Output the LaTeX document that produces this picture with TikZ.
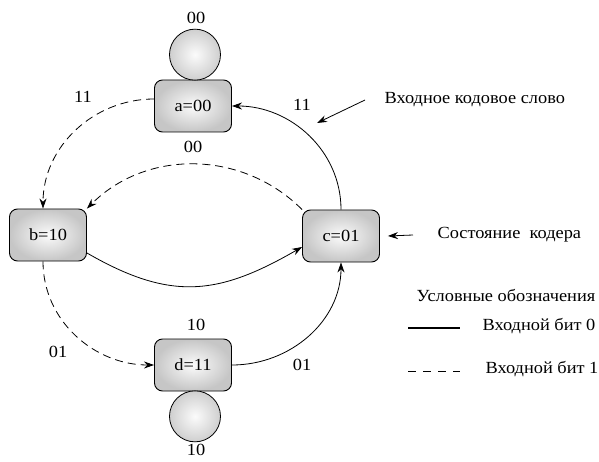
\documentclass[tikz,border=0pt]{standalone}
\usepackage{fontspec}
\setmainfont{Liberation Serif}
\newfontfamily\diagfont{Liberation Serif}[FakeStretch=1.08]
\usetikzlibrary{positioning,arrows.meta}

\begin{document}
\begin{tikzpicture}[
x=1pt, y=1pt,
font=\diagfont\fontsize{17}{19}\selectfont,
state/.style={
draw,
rectangle,
rounded corners=8pt,
line width=0.9pt,
inner color=gray!3,
outer color=gray!45,
minimum width=77pt,
minimum height=52pt,
align=center
},
loopball/.style={
draw,
circle,
line width=0.8pt,
inner sep=0pt,
minimum size=51pt,
inner color=gray!3,
outer color=gray!38
},
lbl/.style={
inner sep=1pt
},
arrow/.style={
-{Stealth[length=10pt,width=7pt]},
line width=0.8pt
},
dasharrow/.style={
arrow,
dash pattern=on 8pt off 5pt
}
]
\useasboundingbox (0,0) rectangle (599,-462);

\node[state] (a) at (193,-106) {a=00};
\node[state] (b) at (48,-235) {b=10};
\node[state] (c) at (341,-236) {c=01};
\node[state] (d) at (193,-365) {d=11};

\node[loopball, above=-1pt of a, xshift=2pt] (loopa) {};
\node[loopball, below=-1pt of d, xshift=2pt] (loopd) {};

% output labels
\node[lbl] (outaa) at (196,-18) {00};
\node[lbl] (outab) at (83,-97) {11};
\node[lbl] (outcb) at (193,-147) {00};
\node[lbl] (outca) at (302,-105) {11};
\node[lbl] (outbc) at (196,-325) {10};
\node[lbl] (outbd) at (58,-352) {01};
\node[lbl] (outdc) at (302,-365) {01};
\node[lbl] (outdd) at (196,-450) {10};

% transitions
\draw[dasharrow] ([yshift=7pt]a.west) to[out=180,in=90] ([xshift=-5pt]b.north);
\draw[dasharrow] (c.north west) to[out=135,in=45] (b.north east);
\draw[arrow] (c.north) to[out=90,in=0] (a.east);
\draw[arrow] ([yshift=-18pt]b.east) to[out=-30,in=-150,looseness=1.15] ([yshift=-11pt]c.west);
\draw[dasharrow] ([xshift=-5pt]b.south) to[out=-90,in=180] (d.west);
\draw[arrow] (d.east) to[out=0,in=-90] (c.south);

% notes
\node[anchor=west] (wordtext) at (381,-100) {Входное кодовое слово};
\node[anchor=west] (statetext) at (434,-235) {Состояние\ \ кодера};
\coordinate (wordtip) at (317,-123);
\draw[arrow] ([xshift=-16pt]wordtext.west) -- (wordtip);
\draw[arrow] ([xshift=-21pt]statetext.west) -- ([xshift=8pt]c.east);

% legend
\node (legtitle) at (506,-295) {Условные обозначения};
\node[anchor=west] (bit0) at (479,-326) {Входной бит 0};
\node[anchor=west] (bit1) at (482,-369) {Входной бит 1};
\draw[line width=1.4pt] (408,-328) -- (460,-328);
\draw[line width=0.8pt, dash pattern=on 8pt off 7pt] (408,-371) -- (460,-371);

\end{tikzpicture}
\end{document}
